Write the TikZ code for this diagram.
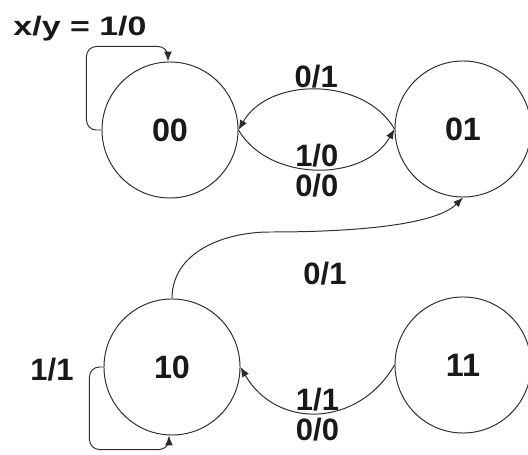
\documentclass[tikz,border=0pt]{standalone}
\usepackage{fontspec}
\setmainfont{Liberation Sans}
\usepackage{graphicx}
\usetikzlibrary{arrows.meta,calc}
\definecolor{lineGray}{RGB}{45,45,45}
\definecolor{textBlack}{RGB}{25,25,25}
\tikzset{
  state/.style={circle,draw=lineGray,line width=.7pt,minimum size=3.4cm,inner sep=0pt,text=textBlack,font=\bfseries\fontsize{23}{24}\selectfont},
  trans/.style={draw=lineGray,line width=.7pt,-{Latex[length=7pt,width=5.5pt]}},
  edgelbl/.style={text=textBlack,font=\bfseries\fontsize{22}{23}\selectfont,inner sep=1pt},
}

\begin{document}
\begin{tikzpicture}[x=0.025cm,y=0.025cm]
\useasboundingbox (0,0) rectangle (528,455);
% states
\node[state] (s00) at (170,325) {00};
\node[state] (s01) at (463,326) {01};
\node[state] (s10) at (172,88) {10};
\node[state] (s11) at (463,90) {11};
% self loops
\draw[trans,rounded corners=7] (s00.west) -- ++(-15,0) |- ($(s00.north)+(-2,15)$) -- ($(s00.north)+(-2,0)$);
\node[text=textBlack,font=\bfseries\fontsize{19}{20}\selectfont,inner sep=0pt] (title) at (80,426) {\scalebox{1.27}[1]{x/y = 1/0}};
\draw[trans,rounded corners=7] (s10.west) -- ++(-14,0) |- ($(s10.south)+(-3,-14)$) -- ($(s10.south)+(-3,0)$);
\node[edgelbl] (l10self) at (52,85) {1/1};
% between 00 and 01
\draw[trans] (s01.west) to[bend right=60] node[edgelbl,above] (l01a) {0/1} (s00.east);
\draw[trans] (s00.east) to[bend right=60] node[edgelbl,above] (l00a) {1/0} node[edgelbl,below,inner sep=3pt] (l00b) {0/0} (s01.west);
% 10 to 01
\coordinate (bend1) at (270,223);
\draw[trans] (s10.north) to[out=90,in=180] (bend1) to[out=0,in=-135,looseness=.6] (s01.south);
\node[edgelbl] (l10a) at (325,181) {0/1};
% 11 to 10
\draw[trans] (s11.west) to[out=-120,in=-60,looseness=1.2] node[edgelbl,above] (l11a) {1/1} node[edgelbl,below,inner sep=3pt] (l11b) {0/0} (s10.east);
\end{tikzpicture}
\end{document}
